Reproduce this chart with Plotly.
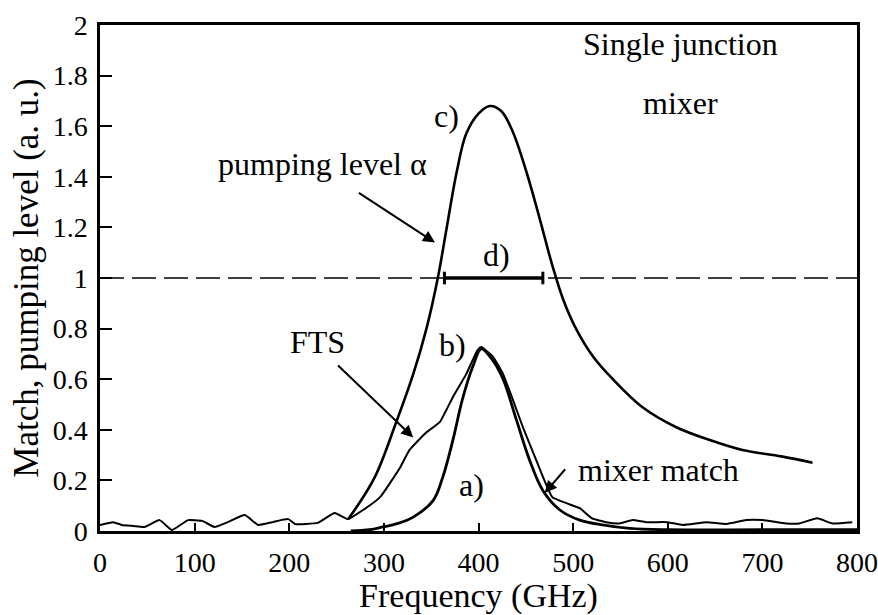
import plotly.graph_objects as go

# ---- data ----
freq_fts = [0, 14, 23, 35, 47, 63, 76, 93, 108, 121, 135, 153, 167, 182, 199, 206, 230, 248, 262, 278,
            296, 317, 327, 345, 359, 373, 387, 399, 403, 415, 426, 447, 461, 478, 493, 507, 520, 535, 549, 563,
            577, 599, 616, 641, 662, 683, 700, 725, 739, 758, 774, 795]
fts = [0.024, 0.035, 0.024, 0.02, 0.016, 0.043, 0.004, 0.043, 0.04, 0.016, 0.035, 0.063, 0.024, 0.035, 0.047,
       0.028, 0.032, 0.071, 0.047, 0.083, 0.134, 0.25, 0.32, 0.39, 0.43, 0.53, 0.62, 0.715, 0.727, 0.69,
       0.62, 0.41, 0.28, 0.134, 0.11, 0.09, 0.05, 0.035, 0.03, 0.043, 0.035, 0.035, 0.024, 0.035, 0.028,
       0.043, 0.043, 0.03, 0.03, 0.05, 0.03, 0.035]

freq_match = [265, 285, 299, 315, 331, 352, 362, 373, 383, 394, 403, 414, 426, 440, 454, 468, 486, 507, 531,
              560, 600, 700, 800]
match = [0.0, 0.005, 0.016, 0.03, 0.055, 0.12, 0.21, 0.36, 0.52, 0.65, 0.72, 0.68, 0.6, 0.44, 0.28, 0.16,
         0.083, 0.043, 0.024, 0.01, 0.005, 0.005, 0.005]

freq_pump = [262, 290, 313, 331, 345, 357, 366, 377, 387, 400, 412, 424, 436, 451, 465, 478, 490, 503,
             521, 542, 573, 609, 644, 679, 720, 753]
pump = [0.045, 0.21, 0.43, 0.62, 0.80, 1.0, 1.19, 1.42, 1.57, 1.65, 1.68, 1.66, 1.58, 1.415, 1.23, 1.05,
        0.91, 0.80, 0.69, 0.60, 0.49, 0.41, 0.36, 0.32, 0.295, 0.27]

ref_x = [0, 800]
ref_y = [1, 1]

band_x = [364, 468]
band_y = [1.0, 1.0]

x_ticks = [0, 100, 200, 300, 400, 500, 600, 700, 800]
y_ticks = [0, 0.2, 0.4, 0.6, 0.8, 1, 1.2, 1.4, 1.6, 1.8, 2]

FONT = "Liberation Serif"

fig = go.Figure()
fig.add_trace(go.Scatter(x=ref_x, y=ref_y, mode="lines",
                         line=dict(color="black", width=1.5, dash="24px,8px"), showlegend=False))
fig.add_trace(go.Scatter(x=freq_fts, y=fts, mode="lines",
                         line=dict(color="black", width=2.0, shape="spline", smoothing=0.4), showlegend=False))
fig.add_trace(go.Scatter(x=freq_match, y=match, mode="lines",
                         line=dict(color="black", width=2.8, shape="spline", smoothing=1.0), showlegend=False))
fig.add_trace(go.Scatter(x=freq_pump, y=pump, mode="lines",
                         line=dict(color="black", width=2.6, shape="spline", smoothing=1.0), showlegend=False))
fig.add_trace(go.Scatter(x=band_x, y=band_y, mode="lines+markers",
                         line=dict(color="black", width=3.5),
                         marker=dict(symbol="line-ns", size=9, line=dict(color="black", width=3)),
                         showlegend=False))

tf = dict(family=FONT, size=32, color="black")
texts = [
    ("Single junction", 613, 1.925),
    ("mixer", 613, 1.69),
    ("c)", 366, 1.64),
    ("pumping level \u03b1", 235, 1.45),
    ("d)", 419, 1.09),
    ("b)", 372, 0.735),
    ("FTS", 230, 0.747),
    ("a)", 393, 0.18),
    ("mixer match", 590, 0.24),
]
for t, x, y in texts:
    fig.add_annotation(x=x, y=y, text=t, showarrow=False, font=tf,
                       xanchor="center", yanchor="middle", align="center")

arrows = [
    (354, 1.14, 272, 1.34),
    (331, 0.37, 250, 0.66),
    (470, 0.15, 493, 0.25),
]
for x, y, ax, ay in arrows:
    fig.add_annotation(x=x, y=y, ax=ax, ay=ay, xref="x", yref="y", axref="x", ayref="y",
                       text="", showarrow=True, arrowhead=2, arrowsize=1.2, arrowwidth=2,
                       arrowcolor="black")

axis_common = dict(showgrid=False, zeroline=False, showline=True, linecolor="black", linewidth=2.5,
                   mirror=True, ticks="inside", tickcolor="black", tickwidth=1.5, automargin=False,
                   tickfont=dict(family=FONT, size=28, color="black"))

fig.update_xaxes(range=[0, 800], tickvals=x_ticks, ticklen=8, ticklabelstandoff=5,
                 title=dict(text="Frequency (GHz)", font=dict(family=FONT, size=34, color="black"), standoff=9),
                 **axis_common)
fig.update_yaxes(range=[0, 2], tickvals=y_ticks, ticklen=12, ticklabelstandoff=4,
                 title=dict(text="Match, pumping level (a. u.)", font=dict(family=FONT, size=35, color="black"),
                            standoff=4),
                 **axis_common)

fig.update_layout(width=878, height=615, margin=dict(l=100, r=21, t=25, b=84),
                  plot_bgcolor="white", paper_bgcolor="white", showlegend=False,
                  font=dict(family=FONT, color="black"))

fig.write_html("out.html")
